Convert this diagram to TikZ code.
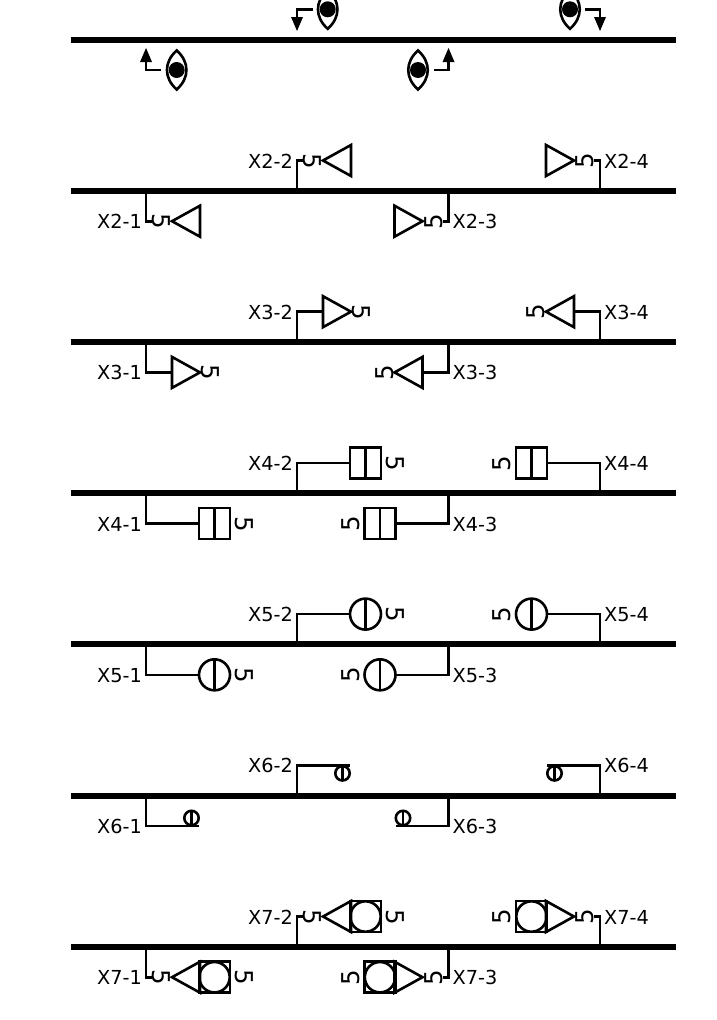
\documentclass[tikz,border=0pt]{standalone}
\usepackage{fontspec}
\setmainfont{DejaVu Sans}
\usetikzlibrary{calc}
\tikzset{
  ln/.style={line width=2.6pt,line join=miter},
  busline/.style={line width=6pt},
  lbl/.style={inner sep=0pt,font=\fontsize{19.3}{19.3}\selectfont},
  five/.style={inner sep=0pt,font=\fontsize{24.5}{24.5}\selectfont},
}
\newcommand{\fiveat}[2]{\node[five,rotate=-90*\s] (f#1) at (#2,0.3) {5};}
\newcommand{\triin}{\draw[ln] (26,0) -- (54,-15.5) -- (54,15.5) -- cycle;}
\newcommand{\triout}{\draw[ln] (54,0) -- (26,-15.5) -- (26,15.5) -- cycle;}
\newcommand{\symrow}[2]{%
  \foreach \i/\bx/\off/\s/\anc/\lx in {1/146/30.5/1/east/142,2/297/-30.2/1/east/293,3/448.5/30.5/-1/west/452.5,4/600/-30.2/-1/west/604}{%
    \pgfmathsetmacro{\cy}{#1+\off}
    \coordinate (b#2-\i) at (\bx,#1);
    \coordinate (t#2-\i) at (\bx,\cy);
    \node[lbl,anchor=\anc] (l#2-\i) at (\lx,\cy+0.5) {X#2-\i};
    \begin{scope}[shift={(\bx,\cy)},xscale=\s]
      \csname symb#2\endcsname
    \end{scope}
  }%
}
\expandafter\def\csname symb2\endcsname{%
  \draw[ln] (0,{-\off}) -- (0,0) -- (6,0);
  \fiveat{\i}{15}\triin}
\expandafter\def\csname symb3\endcsname{%
  \draw[ln] (0,{-\off}) -- (0,0) -- (26,0); \triout\fiveat{\i}{64}}
\expandafter\def\csname symb4\endcsname{%
  \draw[ln] (0,{-\off}) -- (0,0) -- (53,0);
  \draw[ln] (53,-15.5) rectangle (84,15.5); \draw[ln] (68.5,-15.5) -- (68.5,15.5);
  \fiveat{\i}{98}}
\expandafter\def\csname symb5\endcsname{%
  \draw[ln] (0,{-\off}) -- (0,0) -- (53,0);
  \draw[ln] (68.5,0) circle[radius=15.5]; \draw[ln] (68.5,-15.5) -- (68.5,15.5);
  \fiveat{\i}{98}}
\expandafter\def\csname symb6\endcsname{%
  \pgfmathsetmacro{\dirv}{(\off<0)?1:-1}
  \draw[ln] (0,{-\off}) -- (0,0) -- (53,0);
  \draw[ln] (45.5,8*\dirv) circle[radius=7.2]; \draw[ln] (45.5,0) -- (45.5,16*\dirv);}
\expandafter\def\csname symb7\endcsname{%
  \draw[ln] (0,{-\off}) -- (0,0) -- (6,0);
  \fiveat{\i}{15}\triin
  \draw[ln] (53,-15.5) rectangle (84,15.5); \draw[ln] (68.5,0) circle[radius=15.2];
  \fiveat{x\i}{98}}
\newcommand{\eye}[6]{% name, arrow bend x, eye centre x, y, arrow start x, tip y
  \coordinate (e#1) at (#3,#4);
  \draw[ln] (#3,#4-19.5) .. controls (#3+13,#4-8) and (#3+13,#4+8) .. (#3,#4+19.5)
     .. controls (#3-13,#4+8) and (#3-13,#4-8) .. cycle;
  \fill (#3,#4) circle[radius=8];
  \coordinate (as#1) at (#5,#4);
  \coordinate (ab#1) at (#2,#4);
  \coordinate (at#1) at (#2,#6);
  \draw[ln] (as#1) -- (ab#1) -- ($(at#1)!0.5!(ab#1)$);
  \fill (at#1) -- ($(at#1)!14pt!(ab#1)+(6,0)$) -- ($(at#1)!14pt!(ab#1)+(-6,0)$) -- cycle;
}
\begin{document}
\begin{tikzpicture}[x=1pt,y=-1pt]
\clip (0,0) rectangle (716,1020);
\eye{a}{146}{176.7}{70}{161}{48}
\eye{b}{297}{327.7}{9.3}{313}{31}
\eye{c}{448.5}{418}{70}{433.5}{48}
\eye{d}{600}{570}{9.3}{585}{31}
\symrow{190.7}{2}
\symrow{341.9}{3}
\symrow{493.1}{4}
\symrow{644.3}{5}
\symrow{795.5}{6}
\symrow{946.7}{7}
\foreach \n/\yy in {1/39.5,2/190.7,3/341.9,4/493.1,5/644.3,6/795.5,7/946.7}{
  \coordinate (bl\n) at (71,\yy);
  \coordinate (br\n) at (675.5,\yy);
  \draw[busline] (bl\n) -- (br\n);
}
\end{tikzpicture}
\end{document}
